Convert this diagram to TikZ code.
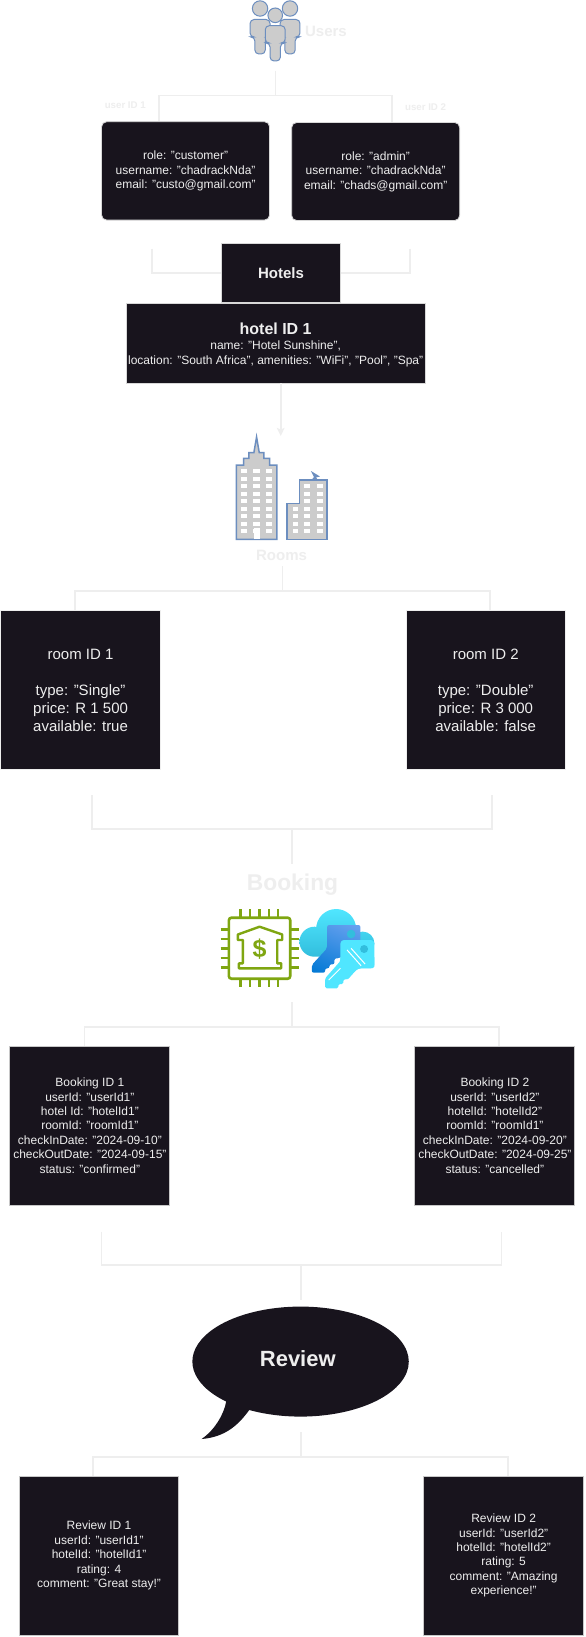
\documentclass[tikz,border=0pt]{standalone}
\usepackage{fontspec}
\setmainfont{Liberation Sans}
\usetikzlibrary{arrows.meta,shadings}
\definecolor{boxfill}{HTML}{18141D}
\definecolor{paleline}{HTML}{EEEEEE}
\definecolor{boxedge}{HTML}{D8D8D8}
\definecolor{boxedgedark}{HTML}{C8C8C8}
\definecolor{iconblue}{HTML}{6C8EBF}
\definecolor{icongrey}{HTML}{CCCCCC}
\definecolor{chipgreen}{HTML}{7FA611}
\definecolor{cyanlight}{HTML}{50E6FF}
\definecolor{cyandark}{HTML}{32BEDD}
\definecolor{keylight}{HTML}{6AA2F0}
\definecolor{keydark}{HTML}{0078D4}
\tikzset{
  conn/.style={draw=paleline,line width=1.7pt},
  darkbox/.style={draw=boxedge,line width=0.8pt,fill=boxfill,text=paleline,align=center,inner sep=0pt,anchor=center},
  small/.style={font=\fontsize{12}{14.4}\selectfont},
  large/.style={font=\fontsize{15}{18}\selectfont},
  pale/.style={text=paleline,inner sep=0pt,font=\bfseries\fontsize{15}{18}\selectfont},
  person/.style={draw=iconblue,fill=icongrey,line width=1pt},
  win/.style={fill=white,draw=none},
  build/.style={draw=iconblue,fill=icongrey,line width=1.5pt},
  pin/.style={draw=chipgreen,line width=2.4pt},
}
\newcommand{\hsperson}[7]{% cx, head y, r, body top, half width, arm bottom, leg bottom
  \draw[person] (#1,#2) circle[radius=#3pt];
  \draw[person,rounded corners=4pt] ({#1-#5},#4) -- ({#1+#5},#4) -- ({#1+#5},#6) -- ({#1+5.2},#6) -- ({#1+5.2},#7) -- ({#1-5.2},#7) -- ({#1-5.2},#6) -- ({#1-#5},#6) -- cycle;
}
\begin{document}
\begin{tikzpicture}[x=0.9983pt,y=-1pt]
\useasboundingbox[fill=white] (0,0) rectangle (586,1637);

% ---- users icon
\hsperson{260.5}{8.5}{7.7}{19.5}{10}{37}{54}
\hsperson{290.5}{8.5}{7.7}{19.5}{10}{37}{54}
\hsperson{275.7}{15.3}{7.3}{25.7}{10}{43}{61}
\node[pale] (users) at (326.5,31) {Users};

% ---- user nodes
\node[darkbox,small,rounded corners=5pt,minimum width=168pt,minimum height=98.3pt] (u1) at (185.9,170.9)
  {role: "customer"\\username: "chadrackNda"\\email: "custo@gmail.com"};
\node[darkbox,small,rounded corners=5pt,minimum width=168pt,minimum height=98pt] (u2) at (376.3,171.5)
  {role: "admin"\\username: "chadrackNda"\\email: "chads@gmail.com"};
\node[text=paleline,inner sep=0pt,font=\bfseries\fontsize{9.7}{12}\selectfont] (ul1) at (125.5,105.7) {user ID 1};
\node[text=paleline,inner sep=0pt,font=\bfseries\fontsize{9.7}{12}\selectfont] (ul2) at (426.3,106.7) {user ID 2};
\coordinate (uStem) at (276,71);
\coordinate (uJoin) at (276,95.5);
\coordinate (uD1) at (159.6,121);
\coordinate (uD2) at (392.5,122);
\draw[conn] (uStem) -- (uJoin);
\draw[conn] (uD1) -- (uD1|-uJoin) -- (uD2|-uJoin) -- (uD2);

% ---- hotels
\node[darkbox,draw=boxedge,font=\bfseries\fontsize{15}{18}\selectfont,minimum width=119pt,minimum height=59pt] (hotels) at (281.5,273) {Hotels};
\node[darkbox,small,minimum width=299pt,minimum height=79.3pt] (hid) at (276.1,343.3)
  {\rule{0pt}{14.5pt}{\bfseries\fontsize{16}{19}\selectfont hotel ID 1}\\[1pt]name: "Hotel Sunshine",\\location: "South Africa", amenities: "WiFi", "Pool", "Spa"};
\coordinate (hL) at (152.5,249);
\coordinate (hR) at (411,249);
\draw[conn] (hL) |- (hotels.west);
\draw[conn] (hR) |- (hotels.east);
\coordinate (arrEnd) at (281.2,436);
\draw[conn,-{Stealth[length=8pt,width=7.5pt,inset=1.5pt]}] (hid.south -| arrEnd) -- (arrEnd);

% ---- buildings icon
\draw[build] (236.7,539.3) -- (236.7,465) -- (244,465) -- (244,458.3) -- (249.3,458.3) -- (249.3,452.7) -- (254.3,452.7) -- (257,437) -- (259.7,452.7) -- (264.3,452.7) -- (264.3,458.3) -- (270,458.3) -- (270,465) -- (277.3,465) -- (277.3,539.3) -- cycle;
\foreach \yy in {471,478.5,486.3,494,501.3,509,516.3,524,531.3}
  \foreach \xx in {241,253.7,266.3}
    \fill[win] (\xx,{\yy-2}) rectangle ++(6.4,4);
\fill[win] (254,528) rectangle (260,538.5);
\draw[build] (287.7,539.3) -- (287.7,503.3) -- (300,503.3) -- (300,480) -- (327.7,480) -- (327.7,539.3) -- cycle;
\foreach \yy in {486.3,494,501.3,509,516.3,524,531.3}
  \foreach \xx in {305,317.3}
    \fill[win] (\xx,{\yy-2}) rectangle ++(6,4);
\foreach \yy in {509,516.3,524,531.3}
  \fill[win] (293,{\yy-2}) rectangle ++(6,4);
\fill[iconblue] (311.5,471) -- (320.5,476.5) -- (316.5,477.5) -- (318.5,480) -- (312,480) -- (314.5,477) -- cycle;
\node[pale] (rooms) at (282,555) {Rooms};

% ---- rooms
\node[darkbox,large,draw=paleline,minimum width=159.4pt,minimum height=159pt] (r1) at (80.7,689.5)
  {\rule{0pt}{12.9pt}room ID 1\\[18pt]type: "Single"\\price: R 1 500\\available: true};
\node[darkbox,large,draw=paleline,minimum width=159.4pt,minimum height=159pt] (r2) at (486.5,689.5)
  {\rule{0pt}{12.9pt}room ID 2\\[18pt]type: "Double"\\price: R 3 000\\available: false};
\coordinate (rStem) at (283,566);
\coordinate (rJoin) at (283,590.7);
\coordinate (rD1) at (75,610);
\coordinate (rD2) at (491,610);
\draw[conn] (rStem) -- (rJoin);
\draw[conn] (rD1) -- (rD1|-rJoin) -- (rD2|-rJoin) -- (rD2);
\coordinate (bkU1) at (92,795);
\coordinate (bkU2) at (493,795);
\coordinate (bkJoin) at (292.3,829.3);
\coordinate (bkStem) at (292.3,864);
\draw[conn] (bkU1) -- (bkU1|-bkJoin) -- (bkU2|-bkJoin) -- (bkU2);
\draw[conn] (bkJoin) -- (bkStem);
\node[pale,font=\bfseries\fontsize{22.8}{27}\selectfont] (booking) at (293,885) {Booking};

% ---- chip icon
\draw[chipgreen,line width=2.6pt,rounded corners=2.5pt] (229.3,917.7) rectangle (290.7,978.7);
\foreach \xx in {241,250.7,260,269.3,278.7}{
  \draw[pin] (\xx,909.3) -- (\xx,917.7);
  \draw[pin] (\xx,978.7) -- (\xx,987.3);
}
\foreach \yy in {929.3,939,948.3,957.7,967.3}{
  \draw[pin] (221,\yy) -- (229.3,\yy);
  \draw[pin] (290.7,\yy) -- (299.3,\yy);
}
\draw[chipgreen,line width=2.4pt,line join=round] (238.3,940) -- (238.3,934.5) -- (260,926.7) -- (282.7,934.5) -- (282.7,940) -- (277.7,940) -- (277.7,963.3) -- (281.7,963.3) -- (281.7,968.3) -- (239.3,968.3) -- (239.3,963.3) -- (243.3,963.3) -- (243.3,940) -- cycle;
\node[text=chipgreen,inner sep=0pt,font=\bfseries\fontsize{25}{27}\selectfont] (dollar) at (260,949.5) {\$};

% ---- key vault icon
\shade[top color=cyanlight,bottom color=cyandark]
  (315,941.7) circle[radius=15pt]
  (336.7,929) circle[radius=20pt]
  (363.3,943.3) circle[radius=11.7pt]
  (315,938) rectangle (363,956.7);
\shade[lower left=keydark,upper right=keylight,lower right=keydark!70!keylight,upper left=keydark!30!keylight,rounded corners=2pt]
  (327.7,948.3) -- (327.7,925) -- (361,925) -- (361,945) -- (340,958.3) -- (335,958.3) -- (335,964.3) -- (330,964.3) -- (330,968.3) -- (325.7,968.3) -- (325.7,972.7) -- (312.3,972.7) -- (312.3,965) -- cycle;
\fill[cyandark] (351.7,934) circle[radius=4.3pt];
\fill[cyanlight,rounded corners=3.5pt] (341,961) -- (341,940) -- (375,940) -- (375,968.3) -- (358.3,968.3) -- (348.3,979.3);
\fill[cyanlight,rounded corners=1.5pt] (341,956) -- (375,956) -- (375,968) -- (358.3,968.3) -- (348.3,979.3) -- (344,979.3) -- (344,984) -- (339,984) -- (339,988.3) -- (325.7,988.3) -- (325.7,978.3) -- (341,961) -- cycle;
\fill[cyandark] (364.7,949) circle[radius=4pt];
\draw[white,line width=1pt] (347.7,950) -- (361.7,965.7);
\draw[white,line width=1pt] (351.7,948.3) -- (365.7,964);
\draw[white,line width=1pt] (329.3,980) -- (341,968.3);

% ---- bookings
\coordinate (bStem) at (292.3,1002);
\coordinate (bJoin) at (292.3,1026.7);
\coordinate (bD1) at (84.5,1046);
\coordinate (bD2) at (500,1046);
\draw[conn] (bStem) -- (bJoin);
\draw[conn] (bD1) -- (bD1|-bJoin) -- (bD2|-bJoin) -- (bD2);
\node[darkbox,draw=boxedgedark,small,minimum width=160pt,minimum height=159.3pt] (b1) at (90,1125.6)
  {Booking ID 1\\userId: "userId1"\\hotel Id: "hotelId1"\\roomId: "roomId1"\\checkInDate: "2024-09-10"\\checkOutDate: "2024-09-15"\\status: "confirmed"};
\node[darkbox,draw=boxedgedark,small,minimum width=160pt,minimum height=159.3pt] (b2) at (495.7,1125.6)
  {Booking ID 2\\userId: "userId2"\\hotelId: "hotelId2"\\roomId: "roomId1"\\checkInDate: "2024-09-20"\\checkOutDate: "2024-09-25"\\status: "cancelled"};
\coordinate (vU1) at (101.7,1231.7);
\coordinate (vU2) at (502.4,1231.7);
\coordinate (vJoin) at (301.7,1265);
\coordinate (vStem) at (301.7,1300);
\draw[conn] (vU1) -- (vU1|-vJoin) -- (vU2|-vJoin) -- (vU2);
\draw[conn] (vJoin) -- (vStem);

% ---- review callout
\fill[boxfill] (249.7,1410) arc[start angle=241.7,end angle=586.6,x radius=108.2pt,y radius=55pt]
  .. controls (224,1415) and (215,1430) .. (202,1439)
  .. controls (225,1437) and (238,1426) .. (249.7,1410) -- cycle;
\node[text=paleline,inner sep=0pt,font=\bfseries\fontsize{22}{26}\selectfont] (review) at (298.3,1358.3) {Review};

% ---- reviews
\coordinate (wStem) at (301.3,1432.3);
\coordinate (wJoin) at (301.3,1457.3);
\coordinate (wD1) at (93.5,1476);
\coordinate (wD2) at (509,1476);
\draw[conn] (wStem) -- (wJoin);
\draw[conn] (wD1) -- (wD1|-wJoin) -- (wD2|-wJoin) -- (wD2);
\node[darkbox,draw=boxedgedark,small,minimum width=159.6pt,minimum height=159pt] (w1) at (99.2,1555.5)
  {Review ID 1\\userId: "userId1"\\hotelId: "hotelId1"\\rating: 4\\comment: "Great stay!"};
\node[darkbox,draw=boxedgedark,small,minimum width=159.6pt,minimum height=159pt] (w2) at (504.5,1555.5)
  {Review ID 2\\userId: "userId2"\\hotelId: "hotelId2"\\rating: 5\\comment: "Amazing\\experience!"};
\end{tikzpicture}
\end{document}
